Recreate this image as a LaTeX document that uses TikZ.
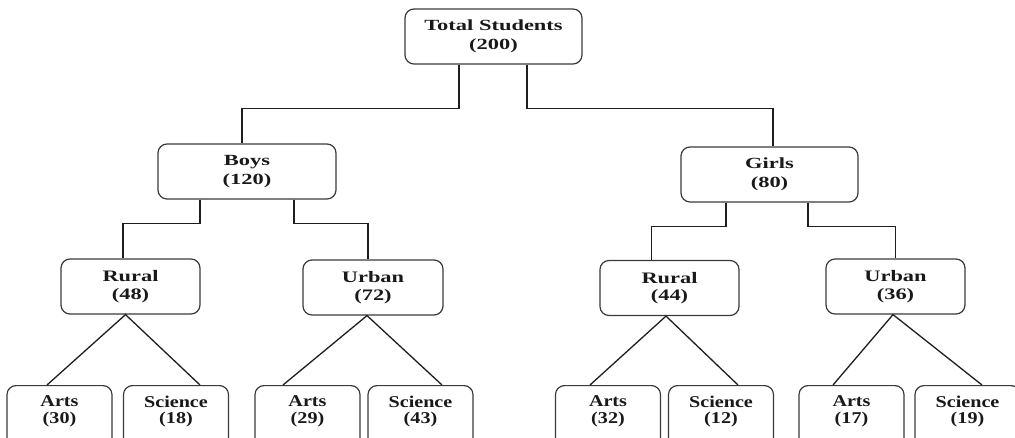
\documentclass[tikz,border=0pt]{standalone}
\usepackage{fontspec}
\usepackage{tikz}
\usetikzlibrary{positioning, calc}
\newfontfamily\wideserif[FakeStretch=1.45]{Liberation Serif}
\newfontfamily\midserif[FakeStretch=1.4]{Liberation Serif}
\newfontfamily\leafserif[FakeStretch=1.22]{Liberation Serif}
\definecolor{edge}{HTML}{3a3a3a}
\definecolor{wire}{HTML}{1e1e1e}

\begin{document}
\begin{tikzpicture}[
  x=1pt, y=1pt,
  box/.style={draw=edge, line width=1.2pt, rounded corners=9pt, align=center, inner sep=2pt, text=black!90},
  topbox/.style={box, minimum width=177pt, minimum height=55pt, font=\wideserif\bfseries\fontsize{15.5}{18.5}\selectfont},
  midbox/.style={box, minimum width=139pt, minimum height=55pt, font=\midserif\bfseries\fontsize{16}{17.5}\selectfont},
  leaf/.style={box, anchor=north, minimum width=105pt, minimum height=62pt},
  leaflabel/.style={anchor=north, align=center, inner sep=0pt, yshift=-10.5pt, text=black!90,
    font=\leafserif\bfseries\fontsize{16.5}{16.5}\selectfont},
  link/.style={draw=wire, line width=1.3pt}
]
  \useasboundingbox (0,0) rectangle (1015,437);
  \clip (0,0) rectangle (1015,437);

  % top and gender level
  \node[topbox] (total) at (493.5,400.5) {Total Students\\(200)};
  \node[topbox, minimum width=178pt] (boys) at (247,265.5) {Boys\\(120)};
  \node[topbox] (girls) at (769.5,262.5) {Girls\\(80)};

  % rural / urban
  \node[midbox] (br) at (130.5,150.5) {Rural\\(48)};
  \node[midbox, minimum width=140pt] (bu) at (373,149.5) {Urban\\(72)};
  \node[midbox] (gr) at (669.5,149) {Rural\\(44)};
  \node[midbox] (gu) at (895.5,150.5) {Urban\\(36)};

  % streams (cut off at the bottom)
  \node[leaf, label={[leaflabel]north:Arts\\(30)}] (bra) at (59.5,52) {};
  \node[leaf, label={[leaflabel]north:Science\\(18)}] (brs) at (176,52) {};
  \node[leaf, label={[leaflabel]north:Arts\\(29)}] (bua) at (307.5,52) {};
  \node[leaf, label={[leaflabel]north:Science\\(43)}] (bus) at (420.5,52) {};
  \node[leaf, label={[leaflabel]north:Arts\\(32)}] (gra) at (608,52) {};
  \node[leaf, label={[leaflabel]north:Science\\(12)}] (grs) at (721,52) {};
  \node[leaf, label={[leaflabel]north:Arts\\(17)}] (gua) at (851.5,52) {};
  \node[leaf, label={[leaflabel]north:Science\\(19)}] (gus) at (967.5,52) {};

  % elbow connectors
  \draw[link] ([xshift=-34.5pt]total.south) -- ++(0,-44) -| ([xshift=-5pt]boys.north);
  \draw[link] ([xshift=33.5pt]total.south) -- ++(0,-44) -| ([xshift=3.5pt]girls.north);
  \draw[link] ([xshift=-47pt]boys.south) -- ++(0,-24) -| ([xshift=-7.5pt]br.north);
  \draw[link] ([xshift=47pt]boys.south) -- ++(0,-24) -| ([xshift=-5pt]bu.north);
  \draw[link] ([xshift=-43.5pt]girls.south) -- ++(0,-24) -| ([xshift=-18pt]gr.north);
  \draw[link] ([xshift=38.5pt]girls.south) -- ++(0,-24) -| (gu.north);

  % diagonal connectors
  \draw[link] ([xshift=-12.5pt]bra.north) -- ([xshift=-5pt]br.south) -- ([xshift=24pt]brs.north);
  \draw[link] ([xshift=-24.5pt]bua.north) -- ([xshift=-6pt]bu.south) -- ([xshift=21.5pt]bus.north);
  \draw[link] ([xshift=-18pt]gra.north) -- ([xshift=-3.5pt]gr.south) -- ([xshift=17pt]grs.north);
  \draw[link] ([xshift=-18.5pt]gua.north) -- ([xshift=-2.5pt]gu.south) -- ([xshift=14.5pt]gus.north);
\end{tikzpicture}
\end{document}
